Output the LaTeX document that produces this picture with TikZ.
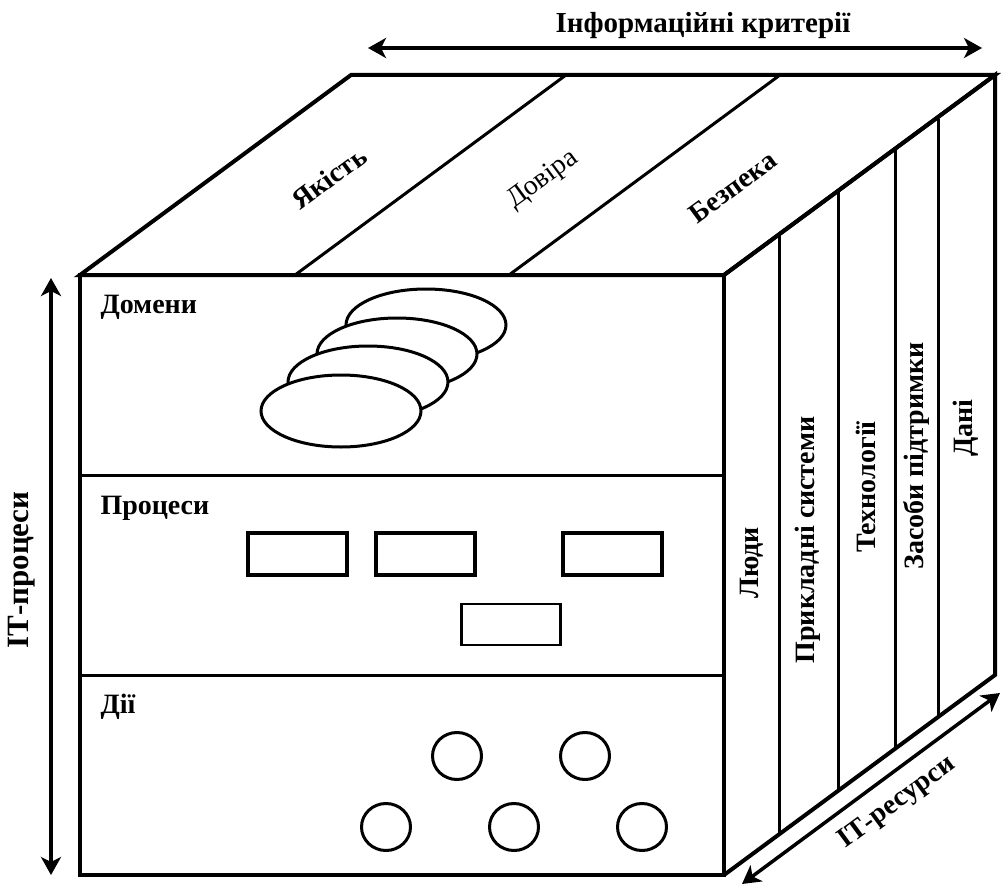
\documentclass[tikz,border=0pt]{standalone}
\usepackage{fontspec}
\setmainfont{Liberation Serif}
\usetikzlibrary{positioning,arrows.meta,shapes.geometric}

\begin{document}
\begin{tikzpicture}[x=1pt,y=-1pt,line width=3pt,
		edge/.style={line width=4pt,line join=miter},
		lbl/.style={font=\fontsize{28}{28}\selectfont\bfseries,inner sep=0pt},
		toplbl/.style={font=\fontsize{28}{28}\selectfont,inner sep=0pt,rotate=36.3},
		dom/.style={ellipse,draw,fill=white,minimum width=160pt,minimum height=72pt,inner sep=0pt},
		proc/.style={rectangle,draw,line width=4pt,minimum width=99pt,minimum height=42pt,inner sep=0pt},
		act/.style={ellipse,draw,minimum width=49pt,minimum height=47pt,inner sep=0pt},
		dbl/.style={{Stealth[length=18pt,width=20pt,inset=5pt]}-{Stealth[length=18pt,width=20pt,inset=5pt]},line width=3.5pt}]
	\useasboundingbox (0,0) rectangle (1001,888);
	% cube corners
	\coordinate (ftl) at (80,275);
	\coordinate (ftr) at (724,275);
	\coordinate (fbl) at (80,875);
	\coordinate (fbr) at (724,875);
	\coordinate (btl) at (351,75);
	\coordinate (btr) at (995,75);
	\coordinate (bbr) at (995,675);
	% top face
	\draw[edge] (ftl) -- (ftr) -- (btr) -- (btl) -- cycle;
	\draw (295,275) -- (566,75);
	\draw (509,275) -- (780,75);
	\node[toplbl,font=\fontsize{28}{28}\selectfont\bfseries] (quality) at (329,178) {Якість};
	\node[toplbl] (trust) at (543,180) {Довіра};
	\node[toplbl,font=\fontsize{28}{28}\selectfont\bfseries] (security) at (733,187) {Безпека};
	% right face
	\draw[edge] (ftr) -- (btr) -- (bbr) -- (fbr);
	\draw (779,235) -- (779,834);
	\draw (838,192) -- (838,790);
	\draw (895,150) -- (895,747);
	\draw (938,119) -- (938,715);
	\node[lbl,rotate=90] (people) at (752,563) {Люди};
	\node[lbl,rotate=90] (apps) at (808,540) {Прикладні системи};
	\node[lbl,rotate=90] (tech) at (866,487) {Технології};
	\node[lbl,rotate=90] (infra) at (916,456) {Засоби підтримки};
	\node[lbl,rotate=90] (data) at (966,428) {Дані};
	% front face
	\draw[edge] (ftl) rectangle (fbr);
	\draw (80,475) -- (724,475);
	\draw (80,675) -- (724,675);
	\node[lbl,anchor=base west] (domains) at (99,313) {Домени};
	\node[lbl,anchor=base west] (processes) at (99,514) {Процеси};
	\node[lbl,anchor=base west] (actions) at (99,713) {Дії};
	\node[dom] (dom4) at (426,325) {};
	\node[dom] (dom3) at (397,354) {};
	\node[dom] (dom2) at (368,382) {};
	\node[dom] (dom1) at (341,411) {};
	\node[proc] (proc1) at (297.5,554) {};
	\node[proc] (proc2) at (425.5,554) {};
	\node[proc] (proc3) at (612,554) {};
	\node[proc,line width=2.5pt,minimum height=41pt] (proc4) at (511,624.5) {};
	\node[act] (act1) at (457,756) {};
	\node[act] (act2) at (585,756) {};
	\node[act] (act3) at (386,827) {};
	\node[act] (act4) at (514,827) {};
	\node[act] (act5) at (642,827) {};
	% axes
	\coordinate (critl) at (368,48);
	\coordinate (critr) at (982,48);
	\draw[dbl] (critl) -- (critr);
	\node[lbl,anchor=base,font=\fontsize{29}{29}\selectfont\bfseries] (criteria) at (703,33) {Інформаційні критерії};
	\coordinate (proct) at (51,278);
	\coordinate (procb) at (51,875);
	\draw[dbl] (proct) -- (procb);
	\node[lbl,rotate=90,font=\fontsize{31}{31}\selectfont\bfseries] (itproc) at (22,570) {ІТ-процеси};
	\coordinate (resl) at (742,884);
	\coordinate (resr) at (1000,693);
	\draw[dbl] (resl) -- (resr);
	\node[lbl,rotate=36.3] (itres) at (897,803) {ІТ-ресурси};
\end{tikzpicture}
\end{document}
